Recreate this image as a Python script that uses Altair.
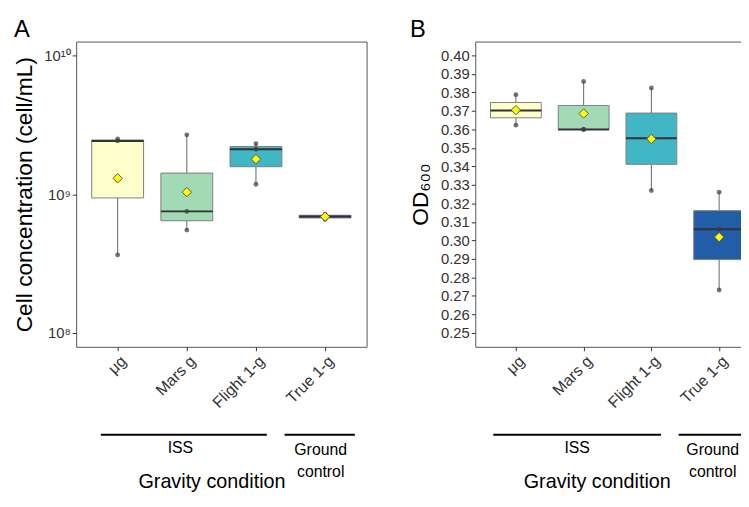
import altair as alt
import numpy as np
import pandas as pd

categories = ["μg", "Mars g", "Flight 1-g", "True 1-g"]
box_colors = ["#ffffcc", "#a1dab4", "#41b6c4", "#225ea8"]

# Panel A: cell concentration (cell/mL), replicates per condition
cells_ug = [3.65e8, 2.42e9, 2.50e9]
cells_mars = [5.51e8, 7.52e8, 2.68e9]
cells_flight = [1.18e9, 2.11e9, 2.31e9]
cells_true = [6.58e8, 6.92e8, 7.18e8]

# Panel B: OD600, replicates per condition
od_ug = [0.3623, 0.3703, 0.3788]
od_mars = [0.3600, 0.3600, 0.3859]
od_flight = [0.3270, 0.3553, 0.3824]
od_true = [0.2732, 0.3061, 0.3261]

cell_ticks = [1e8, 1e9, 1e10]
cell_tick_labels = ["10⁸", "10⁹", "10¹⁰"]
od_ticks = [0.25, 0.26, 0.27, 0.28, 0.29, 0.30, 0.31, 0.32,
            0.33, 0.34, 0.35, 0.36, 0.37, 0.38, 0.39, 0.40]

# group annotations below the x axis (in category-position units)
group_labels = ["ISS", "Ground\ncontrol"]
groupA_start = [0.757, 3.414]
groupA_end = [3.157, 4.43]
groupA_center = [1.907, 3.936]
groupB_start = [0.666, 3.403]
groupB_end = [3.141, 4.43]
groupB_center = [1.904, 3.905]

FONT = "Liberation Sans"


def box_stats(vals, log):
    v = np.log10(np.array(vals, dtype=float)) if log else np.array(vals, dtype=float)
    q1, med, q3 = np.quantile(v, [0.25, 0.5, 0.75])
    iqr = q3 - q1
    lo = v[v >= q1 - 1.5 * iqr].min()
    hi = v[v <= q3 + 1.5 * iqr].max()
    mean = v.mean()
    back = (lambda a: float(10 ** a)) if log else (lambda a: float(a))
    return dict(q1=back(q1), median=back(med), q3=back(q3),
                lo=back(lo), hi=back(hi), mean=back(mean))


def make_panel(letter, series, log, yscale, yaxis_kw, width,
               g_start, g_end, g_center, xtitle_x):
    rows, pts = [], []
    for i, (cat, vals) in enumerate(zip(categories, series)):
        s = box_stats(vals, log)
        s.update(cat=cat, pos=i + 1, xl=i + 1 - 0.375, xr=i + 1 + 0.375)
        rows.append(s)
        for v in vals:
            pts.append(dict(cat=cat, pos=i + 1, value=v))
    box_df = pd.DataFrame(rows)
    pts_df = pd.DataFrame(pts)
    grp_df = pd.DataFrame(dict(label=group_labels, x1=g_start, x2=g_end, xc=g_center))

    xscale = alt.Scale(domain=[0.4, 4.6], nice=False, zero=False)
    label_list = "[" + ",".join("'" + c + "'" for c in categories) + "]"
    xaxis = alt.Axis(values=[1, 2, 3, 4], labelExpr=label_list + "[datum.value-1]",
                     labelAngle=-45, labelAlign="right", labelBaseline="top",
                     labelFontSize=16, labelColor="#333333", labelFlush=False,
                     labelOverlap=False, labelPadding=2, tickSize=4, tickColor="#333333",
                     domain=False, grid=False,
                     title="Gravity condition", titleFontSize=20, titleFontWeight="normal",
                     titleColor="black", titleX=xtitle_x, titleY=142,
                     titleBaseline="alphabetic")
    yaxis = alt.Axis(domain=False, grid=False, tickSize=4, tickColor="#333333",
                     labelFontSize=15, labelColor="#333333", labelPadding=2,
                     labelOverlap=False, labelFlush=False,
                     titleFontSize=23, titleFontWeight="normal", titleColor="black",
                     titleBaseline="middle", **yaxis_kw)

    def X(f):
        return alt.X(f, type="quantitative", scale=xscale, axis=xaxis)

    def Y(f):
        return alt.Y(f, type="quantitative", scale=yscale, axis=yaxis)

    base = alt.Chart(box_df)
    whisk_lo = base.mark_rule(color="#666666", strokeWidth=1).encode(
        x=X("pos"), y=Y("lo"), y2="q1")
    whisk_hi = base.mark_rule(color="#666666", strokeWidth=1).encode(
        x=X("pos"), y=Y("q3"), y2="hi")
    boxes = base.mark_rect(stroke="#7f7f7f", strokeWidth=1).encode(
        x=X("xl"), x2="xr", y=Y("q1"), y2="q3",
        color=alt.Color("cat:N", scale=alt.Scale(domain=categories, range=box_colors),
                        legend=None))
    median = base.mark_rule(color="#333333", strokeWidth=2).encode(
        x=X("xl"), x2="xr", y=Y("median"))
    points = alt.Chart(pts_df).mark_circle(color="#3a3a3a", opacity=0.7, size=24).encode(
        x=X("pos"), y=Y("value"))
    means = base.mark_point(shape="diamond", filled=True, fill="#ffff00", stroke="#555555",
                            strokeWidth=1, size=90, opacity=1).encode(
        x=X("pos"), y=Y("mean"))
    gbase = alt.Chart(grp_df)
    glines = gbase.mark_rule(color="black", strokeWidth=2).encode(
        x=X("x1"), x2="x2", y=alt.value(398))
    gtext_iss = gbase.transform_filter(alt.datum.label == "ISS").mark_text(
        fontSize=16, baseline="alphabetic", align="center", color="black").encode(
        x=X("xc"), y=alt.value(416), text="label:N")
    gtext_ground = gbase.transform_filter(alt.datum.label != "ISS").mark_text(
        fontSize=16, baseline="alphabetic", align="center", color="black",
        lineBreak="\n", lineHeight=22).encode(
        x=X("xc"), y=alt.value(419), text="label:N")

    return alt.layer(whisk_lo, whisk_hi, boxes, median, points, means,
                     glines, gtext_iss, gtext_ground).properties(
        width=width, height=309,
        title=alt.Title(letter, anchor="start", frame="bounds", fontSize=24,
                        fontWeight="normal", baseline="alphabetic", offset=-19,
                        color="black"))


def sup_expr(ticks, labels):
    parts = [(np.log10(t), lab) for t, lab in zip(ticks, labels)]
    expr = "'" + parts[-1][1] + "'"
    for lg, lab in reversed(parts[:-1]):
        expr = "(log(datum.value)/LN10 < %g) ? '%s' : %s" % (lg + 0.5, lab, expr)
    return expr


panelA = make_panel(
    "A", [cells_ug, cells_mars, cells_flight, cells_true], True,
    alt.Scale(type="log", domain=[10 ** 7.9, 10 ** 10.1], nice=False),
    dict(values=cell_ticks, labelExpr=sup_expr(cell_ticks, cell_tick_labels),
         title="Cell concentration (cell/mL)", titleX=-52),
    294, groupA_start, groupA_end, groupA_center, 137)

panelB = make_panel(
    "B", [od_ug, od_mars, od_flight, od_true], False,
    alt.Scale(domain=[0.2425, 0.4075], nice=False, zero=False),
    dict(values=od_ticks, format=".2f", title="OD₆₀₀", titleX=-55),
    288, groupB_start, groupB_end, groupB_center, 123)

# panel B runs past the right edge of the figure (as in the reference): a negative
# right padding crops it at the page edge instead of widening the page
chart = alt.hconcat(panelA, panelB, spacing=42).properties(
    padding={"left": 5, "top": 6, "right": -20, "bottom": 0},
    background="white",
).configure(font=FONT).configure_view(stroke="#555555", strokeWidth=1)

chart.save("out.html", embed_options={"renderer": "svg", "actions": False})
